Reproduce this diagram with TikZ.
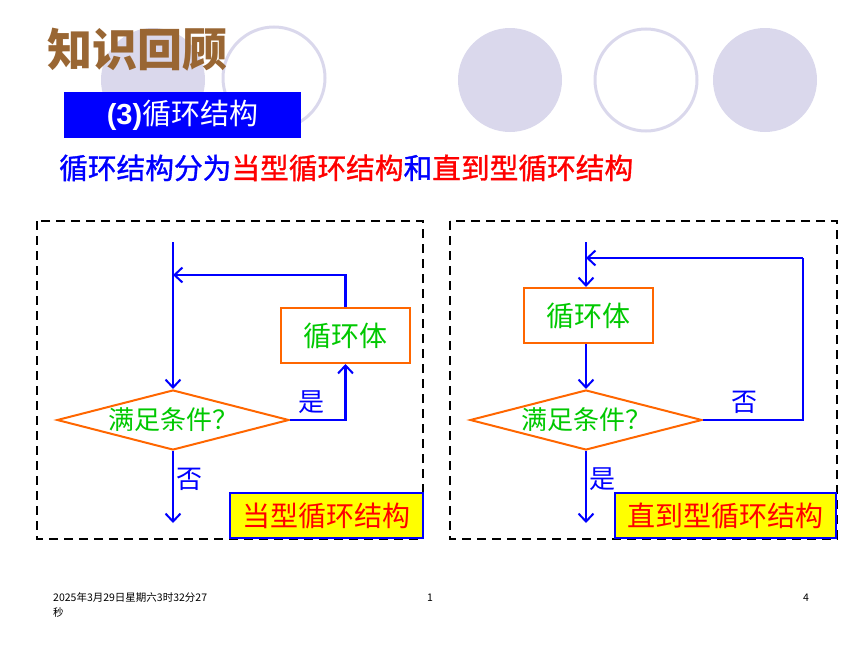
\documentclass[tikz,border=0pt]{standalone}
\usepackage{fontspec}
\setmainfont{Liberation Sans}
\newfontfamily\cjk{Noto Sans CJK SC}
\newfontfamily\cjkm{Noto Sans CJK SC}[FakeBold=1.2]
\usetikzlibrary{arrows.meta,shapes.geometric}
\definecolor{lav}{RGB}{218,216,236}
\definecolor{brn}{RGB}{153,102,51}
\definecolor{blu}{RGB}{0,0,255}
\definecolor{grn}{RGB}{0,200,0}
\definecolor{org}{RGB}{255,102,0}
\definecolor{rd}{RGB}{255,0,0}
\definecolor{yel}{RGB}{255,255,0}
\tikzset{
  flow/.style={draw=blu,line width=2.3pt,-{Straight Barb[length=8pt,width=15pt,line width=2pt]}},
  flowline/.style={draw=blu,line width=2.3pt},
  procbox/.style={draw=org,line width=2pt,minimum width=129pt,minimum height=55pt,inner sep=0pt,text=grn,font=\cjk\fontsize{28}{30}\selectfont},
  decide/.style={draw=org,line width=2pt,diamond,aspect=3.87,minimum width=232pt,minimum height=60pt,inner sep=0pt,text=grn,font=\cjk\fontsize{26}{28}\selectfont},
  lbl/.style={text=blu,inner sep=0pt,font=\cjk\fontsize{26}{28}\selectfont},
  namebox/.style={draw=blu,line width=2pt,fill=yel,minimum height=45pt,inner sep=0pt,text=rd,font=\cjk\fontsize{28}{30}\selectfont},
  frame/.style={draw=black,line width=2.2pt,dash pattern=on 9pt off 6pt},
  deco/.style={fill=lav},
  ring/.style={draw=lav,line width=3pt},
  foot/.style={inner sep=0pt,anchor=west,font=\cjk\fontsize{10.5}{12}\selectfont}
}
\begin{document}
\begin{tikzpicture}[x=1pt,y=-1pt]
\useasboundingbox (0,0) rectangle (860,645);
% decorative circles
\fill[deco] (153,80) circle (52);
\draw[ring] (274,78) circle (51);
\fill[deco] (510,80) circle (52);
\draw[ring] (646,80) circle (51);
\fill[deco] (765,80) circle (52);
% title
\node (title) [text=brn,inner sep=0pt,font=\cjk\bfseries\fontsize{45}{47}\selectfont] at (137,50) {知识回顾};
\node (sub) [fill=blu,minimum width=237pt,minimum height=46pt,inner sep=0pt,text=white,font=\cjk\fontsize{29}{31}\selectfont] at (182.5,115) {{\rmfamily\bfseries (3)}循环结构};
\node (intro) [inner sep=0pt,anchor=west,font=\cjkm\fontsize{28.7}{31}\selectfont] at (59,168) {\textcolor{blu}{循环结构分为}\textcolor{rd}{当型循环结构}\textcolor{blu}{和}\textcolor{rd}{直到型循环结构}};
% frames
\draw[frame] (37,221) rectangle (423,539);
\draw[frame] (450,221) rectangle (837,539);
% left: while loop
\coordinate (Ls) at (173,242);
\coordinate (Lj) at (173,275);
\node (Ld) [decide] at (173,420) {满足条件？};
\node (Lb) [procbox] at (345.5,335.5) {循环体};
\coordinate (Le) at (173,523);
\draw[flow] (Ls) -- (Ld.north);
\draw[flow] (Lb.north) |- (Lj);
\draw[flow] (Ld.east) -| (Lb.south);
\draw[flow] (Ld.south) -- (Le);
\node (Lyes) [lbl] at (311,402) {是};
\node (Lno) [lbl] at (189,479) {否};
\node (Ln) [namebox,minimum width=193pt] at (326.5,515.5) {当型循环结构};
% right: do-until loop
\coordinate (Rs) at (586,242);
\node (Rb) [procbox] at (588.5,315.5) {循环体};
\node (Rd) [decide] at (586,420) {满足条件？};
\coordinate (Rc) at (803,258);
\coordinate (Rj) at (586,258);
\coordinate (Re) at (586,523);
\draw[flow] (Rs) -- (Rs |- Rb.north);
\draw[flow] (Rs |- Rb.south) -- (Rd.north);
\draw[flowline] (Rd.east) -| (Rc);
\draw[flow] (Rc) -- (Rj);
\draw[flow] (Rd.south) -- (Re);
\node (Rno) [lbl] at (744,402) {否};
\node (Ryes) [lbl] at (602,479) {是};
\node (Rn) [namebox,minimum width=221pt] at (725.5,515.5) {直到型循环结构};
% footer
\node (f1) [foot] at (53,598) {2025年3月29日星期六3时32分27};
\node (f2) [foot] at (53,612) {秒};
\node (f3) [foot] at (427,598) {1};
\node (f4) [foot] at (803,598) {4};
\end{tikzpicture}
\end{document}
